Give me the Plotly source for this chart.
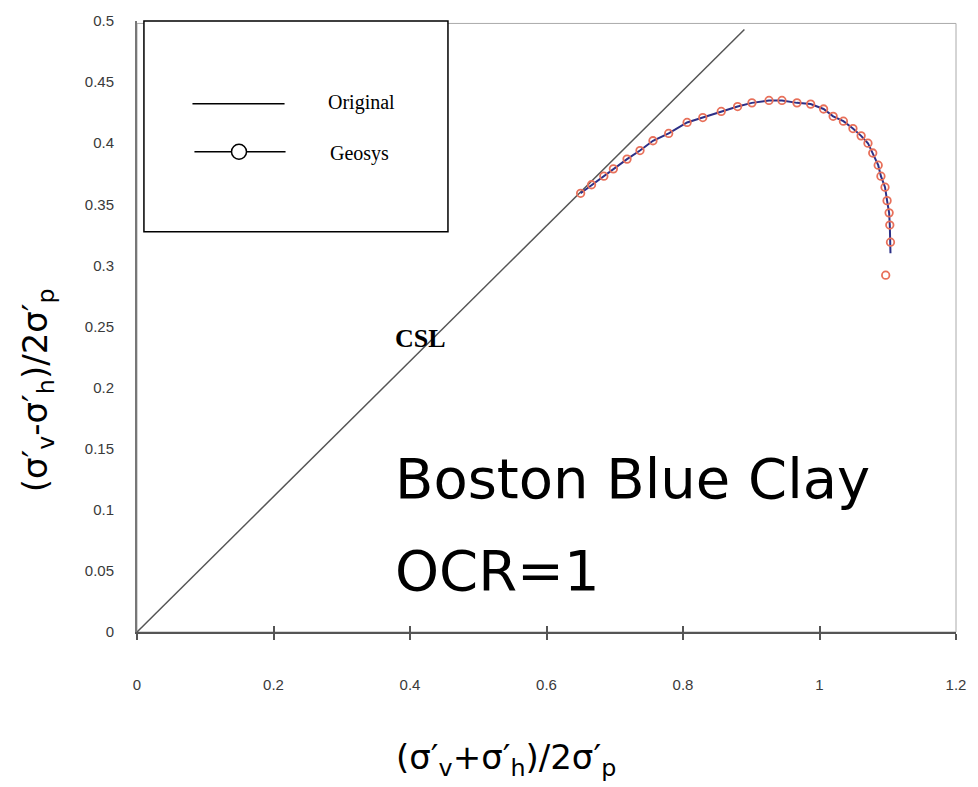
import plotly.graph_objects as go

# Critical state line through the origin
csl_x = [0.0, 0.890]
csl_y = [0.0, 0.493]

# Original model stress path
orig_x = [0.650, 0.684, 0.698, 0.718, 0.737, 0.756, 0.779, 0.806, 0.829, 0.856,
          0.880, 0.901, 0.926, 0.945, 0.967, 0.987, 1.006, 1.020, 1.035, 1.049,
          1.061, 1.071, 1.078, 1.086, 1.090, 1.096, 1.099, 1.102, 1.103, 1.104, 1.104]
orig_y = [0.359, 0.373, 0.379, 0.387, 0.394, 0.402, 0.408, 0.417, 0.421, 0.426,
          0.430, 0.433, 0.435, 0.435, 0.433, 0.432, 0.428, 0.422, 0.418, 0.412,
          0.406, 0.400, 0.392, 0.382, 0.373, 0.364, 0.353, 0.343, 0.333, 0.319, 0.310]

# Geosys stress path
geo_x = [0.650, 0.666, 0.684, 0.698, 0.718, 0.737, 0.756, 0.779, 0.806, 0.829,
         0.856, 0.880, 0.901, 0.926, 0.945, 0.967, 0.987, 1.006, 1.020, 1.035,
         1.049, 1.061, 1.071, 1.078, 1.086, 1.090, 1.096, 1.099, 1.102, 1.103,
         1.104, 1.097]
geo_y = [0.359, 0.366, 0.373, 0.379, 0.387, 0.394, 0.402, 0.408, 0.417, 0.421,
         0.426, 0.430, 0.433, 0.435, 0.435, 0.433, 0.432, 0.428, 0.422, 0.418,
         0.412, 0.406, 0.400, 0.392, 0.382, 0.373, 0.364, 0.353, 0.343, 0.333,
         0.319, 0.292]

x_ticks = [0, 0.2, 0.4, 0.6, 0.8, 1.0, 1.2]
x_tick_text = ["0", "0.2", "0.4", "0.6", "0.8", "1", "1.2"]
y_ticks = [0, 0.05, 0.1, 0.15, 0.2, 0.25, 0.3, 0.35, 0.4, 0.45, 0.5]
y_tick_text = ["0", "0.05", "0.1", "0.15", "0.2", "0.25", "0.3", "0.35", "0.4", "0.45", "0.5"]

fig = go.Figure()

fig.add_trace(go.Scatter(x=csl_x, y=csl_y, mode="lines",
                         line=dict(color="#555555", width=1.5), showlegend=False))
fig.add_trace(go.Scatter(x=orig_x, y=orig_y, mode="lines",
                         line=dict(color="#2c2f86", width=2), showlegend=False))
fig.add_trace(go.Scatter(x=geo_x, y=geo_y, mode="markers",
                         marker=dict(symbol="circle-open", size=7.5, color="#e8705a",
                                     line=dict(width=1.8)),
                         showlegend=False))
# invisible trace so the overlaid tick axis is drawn
fig.add_trace(go.Scatter(x=[0], y=[0], xaxis="x2", mode="markers",
                         marker=dict(opacity=0), showlegend=False, hoverinfo="skip"))

tick_font = dict(family="Liberation Sans, Arial", size=15, color="#3a3a3a")

fig.update_layout(
    width=978, height=787,
    margin=dict(l=137, r=14, t=20, b=155),
    paper_bgcolor="white", plot_bgcolor="white",
    xaxis=dict(range=[0, 1.2], tickvals=x_ticks, ticktext=x_tick_text,
               showgrid=False, zeroline=False, showline=True,
               linecolor="#555555", linewidth=2,
               ticks="outside", ticklen=6, tickwidth=1.5, tickcolor="#555555",
               tickfont=tick_font, ticklabelstandoff=32),
    xaxis2=dict(range=[0, 1.2], overlaying="x", anchor="y", side="bottom",
                tickvals=x_ticks, showticklabels=False, showgrid=False,
                zeroline=False, showline=False,
                ticks="inside", ticklen=6, tickwidth=1.5, tickcolor="#555555"),
    yaxis=dict(range=[0, 0.5], tickvals=y_ticks, ticktext=y_tick_text,
               showgrid=False, zeroline=False, showline=True,
               linecolor="#777777", linewidth=2, ticks="",
               tickfont=tick_font, ticklabelstandoff=18),
)

# thin frame on top and right
fig.add_shape(type="rect", xref="paper", yref="paper", x0=0, x1=1, y0=0, y1=0.996,
              line=dict(color="#aaaaaa", width=1), layer="below")

# legend box
px_x = lambda p: (p - 137) / 827
px_y = lambda p: (632 - p) / 612
fig.add_shape(type="rect", xref="paper", yref="paper",
              x0=px_x(144), x1=px_x(451), y0=px_y(231), y1=px_y(20),
              line=dict(color="black", width=1.5), fillcolor="white")
fig.add_shape(type="line", xref="paper", yref="paper",
              x0=px_x(193), x1=px_x(286), y0=px_y(103), y1=px_y(103),
              line=dict(color="black", width=1.5))
fig.add_shape(type="line", xref="paper", yref="paper",
              x0=px_x(195), x1=px_x(287), y0=px_y(151), y1=px_y(151),
              line=dict(color="black", width=1.5))
fig.add_shape(type="circle", xref="paper", yref="paper",
              xsizemode="pixel", ysizemode="pixel",
              xanchor=px_x(240), yanchor=px_y(151),
              x0=-7.5, x1=7.5, y0=-7.5, y1=7.5,
              line=dict(color="black", width=1.5), fillcolor="white")

serif = "Liberation Serif, Times New Roman"
fig.add_annotation(xref="paper", yref="paper", x=px_x(328), y=px_y(102),
                   text="Original", showarrow=False, xanchor="left", yanchor="middle",
                   font=dict(family=serif, size=20, color="black"))
fig.add_annotation(xref="paper", yref="paper", x=px_x(330), y=px_y(153),
                   text="Geosys", showarrow=False, xanchor="left", yanchor="middle",
                   font=dict(family=serif, size=20, color="black"))

fig.add_annotation(x=0.415, y=0.24, text="<b>CSL</b>", showarrow=False,
                   font=dict(family=serif, size=26, color="black"))

sans = "DejaVu Sans, Verdana"
fig.add_annotation(xref="paper", yref="paper", x=px_x(395), y=px_y(478),
                   text="Boston Blue Clay", showarrow=False,
                   xanchor="left", yanchor="middle",
                   font=dict(family=sans, size=56, color="black"))
fig.add_annotation(xref="paper", yref="paper", x=px_x(395), y=px_y(570),
                   text="OCR=1", showarrow=False,
                   xanchor="left", yanchor="middle",
                   font=dict(family=sans, size=56, color="black"))

# axis titles
fig.add_annotation(xref="paper", yref="paper", x=px_x(510), y=px_y(760),
                   text="(σ′<sub>v</sub>+σ′<sub>h</sub>)/2σ′<sub>p</sub>",
                   showarrow=False, xanchor="center", yanchor="middle",
                   font=dict(family=sans, size=34, color="black"))
fig.add_annotation(xref="paper", yref="paper", x=px_x(36), y=px_y(390),
                   text="(σ′<sub>v</sub>-σ′<sub>h</sub>)/2σ′<sub>p</sub>",
                   showarrow=False, textangle=-90, xanchor="center", yanchor="middle",
                   font=dict(family=sans, size=34, color="black"))

fig.write_html("out.html")
